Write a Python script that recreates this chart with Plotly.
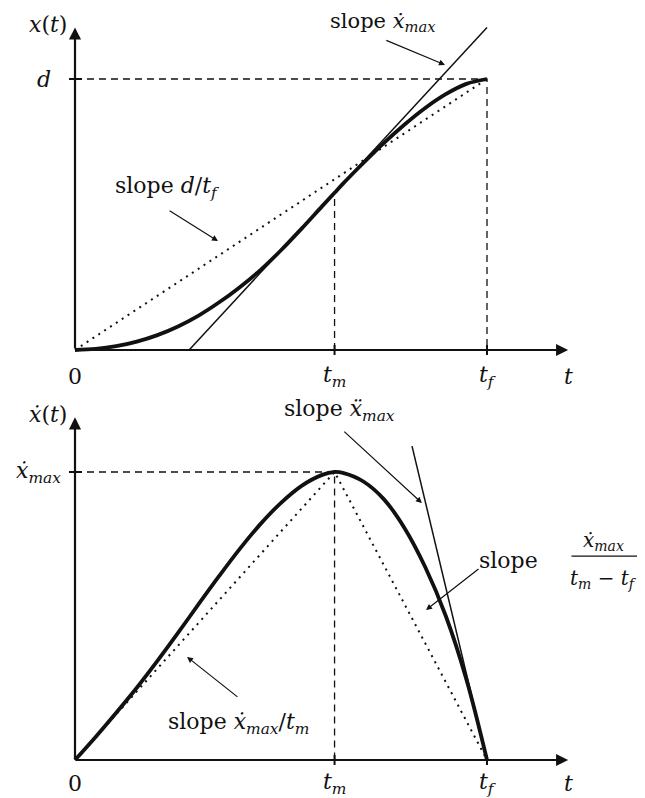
import plotly.graph_objects as go

# time is scaled by t_f, position by d, velocity by xdot_max
t_m = 0.63
t_f = 1.0
d = 1.0
xdot_max = 1.0

# x(t)
t_pos = [0, 0.05, 0.1, 0.15, 0.2, 0.25, 0.3, 0.35, 0.4, 0.45, 0.5, 0.55, 0.6, 0.63,
         0.65, 0.7, 0.75, 0.8, 0.85, 0.9, 0.95, 1.0]
x_pos = [0, 0.004, 0.014, 0.031, 0.055, 0.087, 0.127, 0.176, 0.232, 0.295, 0.368, 0.448, 0.531, 0.58,
         0.613, 0.69, 0.764, 0.832, 0.893, 0.944, 0.982, 1.0]

# xdot(t)
t_vel = [0, 0.05, 0.1, 0.15, 0.2, 0.25, 0.3, 0.35, 0.4, 0.45, 0.5, 0.55, 0.6, 0.63,
         0.65, 0.7, 0.75, 0.8, 0.85, 0.9, 0.95, 1.0]
v_vel = [0, 0.08, 0.164, 0.251, 0.344, 0.441, 0.541, 0.639, 0.733, 0.819, 0.893, 0.952, 0.99, 1.0,
         0.997, 0.967, 0.905, 0.805, 0.67, 0.5, 0.28, 0]

# tangent lines
tan_pos_t = [0.277, 1.0]
tan_pos_x = [0.0, 1.19]
tan_vel_t = [0.818, 1.0]
tan_vel_v = [1.09, 0.0]

FONT = "DejaVu Serif"
BLACK = "#111"

fig = go.Figure()

# upper plot
fig.add_trace(go.Scatter(x=[0, t_f], y=[0, d], mode="lines", xaxis="x", yaxis="y",
                         line=dict(color=BLACK, width=2, dash="2px,5px")))
fig.add_trace(go.Scatter(x=[0, t_f, t_f], y=[d, d, 0], mode="lines", xaxis="x", yaxis="y",
                         line=dict(color=BLACK, width=1.3, dash="7px,5px")))
fig.add_trace(go.Scatter(x=[t_m, t_m], y=[0, x_pos[t_pos.index(t_m)]], mode="lines", xaxis="x", yaxis="y",
                         line=dict(color=BLACK, width=1.3, dash="7px,5px")))
fig.add_trace(go.Scatter(x=tan_pos_t, y=tan_pos_x, mode="lines", xaxis="x", yaxis="y",
                         line=dict(color=BLACK, width=1.5)))
fig.add_trace(go.Scatter(x=t_pos, y=x_pos, mode="lines", xaxis="x", yaxis="y",
                         line=dict(color=BLACK, width=3.8, shape="spline", smoothing=1)))

# lower plot
fig.add_trace(go.Scatter(x=[0, t_m, t_f], y=[0, xdot_max, 0], mode="lines", xaxis="x2", yaxis="y2",
                         line=dict(color=BLACK, width=2, dash="2px,5px")))
fig.add_trace(go.Scatter(x=[0, t_m, t_m], y=[xdot_max, xdot_max, 0], mode="lines", xaxis="x2", yaxis="y2",
                         line=dict(color=BLACK, width=1.3, dash="7px,5px")))
fig.add_trace(go.Scatter(x=tan_vel_t, y=tan_vel_v, mode="lines", xaxis="x2", yaxis="y2",
                         line=dict(color=BLACK, width=1.5)))
fig.add_trace(go.Scatter(x=t_vel, y=v_vel, mode="lines", xaxis="x2", yaxis="y2",
                         line=dict(color=BLACK, width=3.8, shape="spline", smoothing=1)))


def arrow(xr, yr, x0, y0, x1, y1, width=1.2, head=2, size=1.0):
    fig.add_annotation(x=x1, y=y1, ax=x0, ay=y0, xref=xr, yref=yr, axref=xr, ayref=yr,
                       text="", showarrow=True, arrowhead=head, arrowsize=size,
                       arrowwidth=width, arrowcolor=BLACK)


def label(xr, yr, x, y, text, xanchor="center", yanchor="middle", xshift=0, yshift=0, size=22):
    fig.add_annotation(x=x, y=y, xref=xr, yref=yr, text=text, showarrow=False,
                       xanchor=xanchor, yanchor=yanchor, xshift=xshift, yshift=yshift,
                       font=dict(family=FONT, size=size, color=BLACK))


for xr, yr, ys in [("x", "y", -26), ("x2", "y2", -23)]:
    # axes with arrow tips
    arrow(xr, yr, 0, 0, 1.197, 0, width=2.2, head=2, size=1.1)
    arrow(xr, yr, 0, 0, 0, 1.19, width=2.2, head=2, size=1.1)
    label(xr, yr, 0, 0, "0", yshift=ys)
    label(xr, yr, t_m, 0, "<i>t</i><sub><i>m</i></sub>", yshift=ys)
    label(xr, yr, t_f, 0, "<i>t</i><sub><i>f</i></sub>", yshift=ys)
    label(xr, yr, 1.197, 0, "<i>t</i>", yshift=ys)
    for tt in [t_m, t_f]:
        fig.add_shape(type="line", xref=xr, yref=yr, x0=tt, x1=tt, ysizemode="pixel", yanchor=0,
                      y0=-5, y1=5, line=dict(color=BLACK, width=2))
    fig.add_shape(type="line", xref=xr, yref=yr, y0=1, y1=1, xsizemode="pixel", xanchor=0,
                  x0=-6, x1=7, line=dict(color=BLACK, width=2))

# upper labels
label("x", "y", 0, 1.2, "<i>x</i>(<i>t</i>)", xanchor="right", xshift=-6)
label("x", "y", 0, d, "<i>d</i>", xanchor="right", xshift=-22)
label("x", "y", 0.223, 0.598, "slope <i>d</i>/<i>t<sub>f</sub></i>")
arrow("x", "y", 0.226, 0.517, 0.347, 0.402)
label("x", "y", 0.748, 1.212, "slope <i>ẋ<sub>max</sub></i>", size=21)
arrow("x", "y", 0.752, 1.145, 0.898, 1.052)

# lower labels
label("x2", "y2", 0, 1.2, "<i>ẋ</i>(<i>t</i>)", xanchor="right", xshift=-6)
label("x2", "y2", 0, xdot_max, "<i>ẋ<sub>max</sub></i>", xanchor="right", xshift=-12)
label("x2", "y2", 0.643, 1.215, "slope <i>ẍ<sub>max</sub></i>")
arrow("x2", "y2", 0.650, 1.145, 0.842, 0.892)
label("x2", "y2", 1.052, 0.694, "slope")
label("x2", "y2", 1.283, 0.76, "<i>ẋ<sub>max</sub></i>", size=20)
label("x2", "y2", 1.283, 0.627, "<i>t<sub>m</sub></i> − <i>t<sub>f</sub></i>", size=20)
fig.add_shape(type="line", xref="x2", yref="y2", x0=1.205, x1=1.365, y0=0.708, y1=0.708,
              line=dict(color=BLACK, width=1.3))
arrow("x2", "y2", 0.983, 0.667, 0.852, 0.521)
label("x2", "y2", 0.398, 0.128, "slope <i>ẋ<sub>max</sub></i>/<i>t<sub>m</sub></i>")
arrow("x2", "y2", 0.398, 0.215, 0.272, 0.358)

# the page body adds an 8 px margin, so the figure covers page pixels 8..645 / 8..798
W, H, OFF = 645, 798, 8
px_per_t = 412.0
x0_px = 75
top_axis_px, top_unit_px = 350, 271.0
bot_axis_px, bot_unit_px = 760, 288.0

x_range = [(OFF - x0_px) / px_per_t, (W - x0_px) / px_per_t]
ax_common = dict(visible=False, domain=[0, 1], range=x_range, fixedrange=True)
fig.update_layout(
    width=W - OFF, height=H - OFF,
    margin=dict(l=0, r=0, t=0, b=0),
    paper_bgcolor="white", plot_bgcolor="rgba(0,0,0,0)",
    showlegend=False,
    xaxis=dict(ax_common, anchor="y"),
    yaxis=dict(visible=False, domain=[0, 1], anchor="x",
               range=[(top_axis_px - H) / top_unit_px, (top_axis_px - OFF) / top_unit_px]),
    xaxis2=dict(ax_common, anchor="y2"),
    yaxis2=dict(visible=False, domain=[0, 1], anchor="x2",
                range=[(bot_axis_px - H) / bot_unit_px, (bot_axis_px - OFF) / bot_unit_px]),
)

fig.write_html("out.html")
